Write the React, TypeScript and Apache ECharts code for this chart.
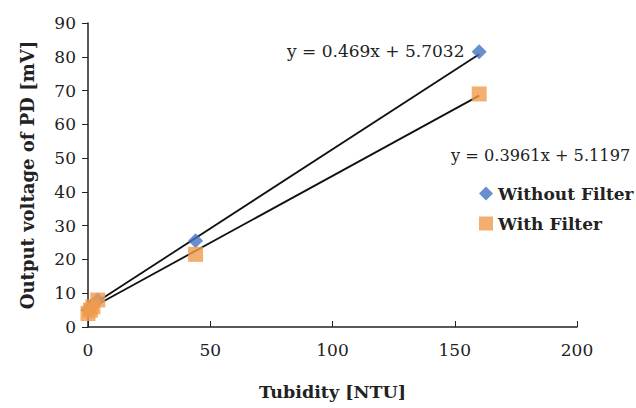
import React, { useEffect, useRef } from "react";
import * as echarts from "echarts";

const withoutFilter: [number, number][] = [
  [0, 5], [1, 6], [2, 6.5], [4, 8], [44, 25.5], [160, 81.5],
];
const withFilter: [number, number][] = [
  [0, 4], [1, 5], [2, 6], [4, 8], [44, 21.5], [160, 69],
];
const trendWithout = { slope: 0.469, intercept: 5.7032, label: "y = 0.469x + 5.7032" };
const trendWith = { slope: 0.3961, intercept: 5.1197, label: "y = 0.3961x + 5.1197" };
const trendRange = [0, 160];

const FONT = "DejaVu Serif";

export default function App() {
  const ref = useRef<HTMLDivElement>(null);
  useEffect(() => {
    document.body.style.margin = "0";
    const chart = echarts.init(ref.current!, undefined, { renderer: "svg" });
    const line = (t: { slope: number; intercept: number }) =>
      trendRange.map((x) => [x, t.slope * x + t.intercept]);
    chart.setOption({
      animation: false,
      backgroundColor: "#ffffff",
      textStyle: { fontFamily: FONT },
      grid: { left: 88, right: 59, top: 23, bottom: 81 },
      legend: {
        orient: "vertical",
        left: 474,
        top: 180,
        itemGap: 13,
        itemWidth: 14,
        itemHeight: 14,
        textStyle: { fontFamily: FONT, fontWeight: "bold", fontSize: 17, color: "#222" },
        data: [
          { name: "Without Filter", icon: "diamond" },
          { name: "With Filter", icon: "rect" },
        ],
      },
      xAxis: {
        type: "value",
        min: 0,
        max: 200,
        interval: 50,
        name: "Tubidity [NTU]",
        nameLocation: "middle",
        nameGap: 56,
        nameTextStyle: { fontFamily: FONT, fontWeight: "bold", fontSize: 17.5, color: "#222" },
        axisLine: { show: true, lineStyle: { color: "#222", width: 1.5 } },
        axisTick: { show: true, inside: true, length: 6, lineStyle: { color: "#222" } },
        axisLabel: { fontFamily: FONT, fontSize: 17, color: "#222", margin: 14 },
        splitLine: { show: false },
      },
      yAxis: {
        type: "value",
        min: 0,
        max: 90,
        interval: 10,
        name: "Output voltage of PD [mV]",
        nameLocation: "middle",
        nameGap: 52,
        nameTextStyle: { fontFamily: FONT, fontWeight: "bold", fontSize: 18, color: "#222" },
        axisLine: { show: true, lineStyle: { color: "#222", width: 1.5 } },
        axisTick: { show: true, length: 6, lineStyle: { color: "#222" } },
        axisLabel: { fontFamily: FONT, fontSize: 17, color: "#222", margin: 12 },
        splitLine: { show: false },
      },
      series: [
        {
          name: "trend-without",
          type: "line",
          data: line(trendWithout),
          showSymbol: false,
          lineStyle: { color: "#111", width: 1.8 },
          z: 1,
          silent: true,
        },
        {
          name: "trend-with",
          type: "line",
          data: line(trendWith),
          showSymbol: false,
          lineStyle: { color: "#111", width: 1.8 },
          z: 1,
          silent: true,
        },
        {
          name: "Without Filter",
          type: "scatter",
          symbol: "diamond",
          symbolSize: 15,
          itemStyle: { color: "#4472C4" },
          data: withoutFilter,
          z: 2,
        },
        {
          name: "With Filter",
          type: "scatter",
          symbol: "rect",
          symbolSize: 15,
          itemStyle: { color: "#F09B4C" },
          data: withFilter,
          z: 3,
        },
      ],
      graphic: [
        {
          type: "text",
          left: 287,
          top: 42,
          style: { text: trendWithout.label, fontFamily: FONT, fontSize: 17, fill: "#222" },
        },
        {
          type: "text",
          left: 451,
          top: 147,
          style: { text: trendWith.label, fontFamily: FONT, fontSize: 16.2, fill: "#222" },
        },
      ],
    });
    return () => chart.dispose();
  }, []);
  return <div ref={ref} style={{ width: 636, height: 408 }} />;
}
